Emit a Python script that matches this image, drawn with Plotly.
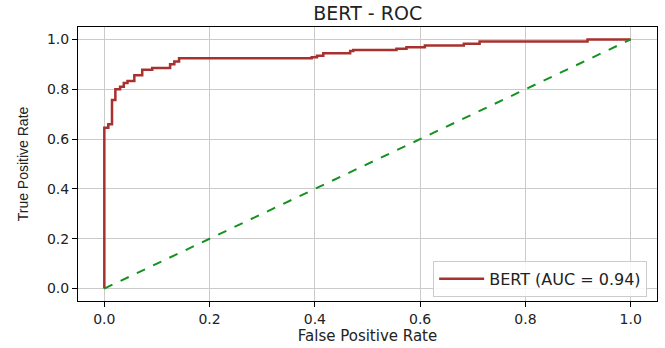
import plotly.graph_objects as go

# ROC step points (FPR where step happens, TPR level after step)
fpr = [0.0, 0.0, 0.0076, 0.0146, 0.021, 0.030, 0.037, 0.044, 0.057, 0.072, 0.091,
       0.125, 0.133, 0.142, 0.394, 0.404, 0.416, 0.467, 0.473, 0.555, 0.574,
       0.609, 0.683, 0.713, 0.918, 1.0]
tpr = [0.0, 0.646, 0.66, 0.757, 0.80, 0.81, 0.825, 0.833, 0.856, 0.878, 0.885,
       0.90, 0.911, 0.925, 0.929, 0.935, 0.945, 0.954, 0.958, 0.963, 0.969,
       0.976, 0.983, 0.992, 1.0, 1.0]
diag_x = [0.0, 1.0]
diag_y = [0.0, 1.0]
auc_label = "BERT (AUC = 0.94)"
title_text = "BERT - ROC"
ticks = [0.0, 0.2, 0.4, 0.6, 0.8, 1.0]
tick_labels = ["0.0", "0.2", "0.4", "0.6", "0.8", "1.0"]

fig = go.Figure()
fig.add_trace(go.Scatter(x=fpr, y=tpr, mode="lines", line_shape="hv",
                         line=dict(color="#a8302f", width=2.5), name=auc_label))
fig.add_trace(go.Scatter(x=diag_x, y=diag_y, mode="lines",
                         line=dict(color="#14911e", width=2, dash="dash"),
                         showlegend=False))

axis_common = dict(range=[-0.05, 1.05], tickvals=ticks, ticktext=tick_labels,
                   showgrid=True, gridcolor="#cbcbcb", gridwidth=1,
                   showline=True, linecolor="black", linewidth=1, mirror=True,
                   ticks="outside", ticklen=5, tickcolor="black",
                   zeroline=False, tickfont=dict(family="DejaVu Sans", size=14, color="#222"))

fig.update_layout(
    width=665, height=348,
    margin=dict(l=78, r=7, t=27, b=41),
    paper_bgcolor="white", plot_bgcolor="white",
    title=dict(text=title_text, x=0.553, xref="container", xanchor="center",
               y=1 - 13 / 348, yref="container", yanchor="middle",
               font=dict(family="DejaVu Sans", size=19, color="#222")),
    xaxis=dict(**axis_common,
               title=dict(text="False Positive Rate", standoff=4,
                          font=dict(family="DejaVu Sans", size=15, color="#222"))),
    yaxis=dict(**axis_common,
               title=dict(text="True Positive Rate", standoff=15,
                          font=dict(family="Liberation Sans Narrow, Liberation Sans", size=14, color="#222"))),
    legend=dict(x=0.983, xanchor="right", y=0.015, yanchor="bottom",
                bgcolor="rgba(255,255,255,0.85)", bordercolor="#cccccc", borderwidth=1,
                itemwidth=45, tracegroupgap=0,
                font=dict(family="DejaVu Sans", size=16, color="#222")),
    showlegend=True,
)

fig.write_html("out.html")
